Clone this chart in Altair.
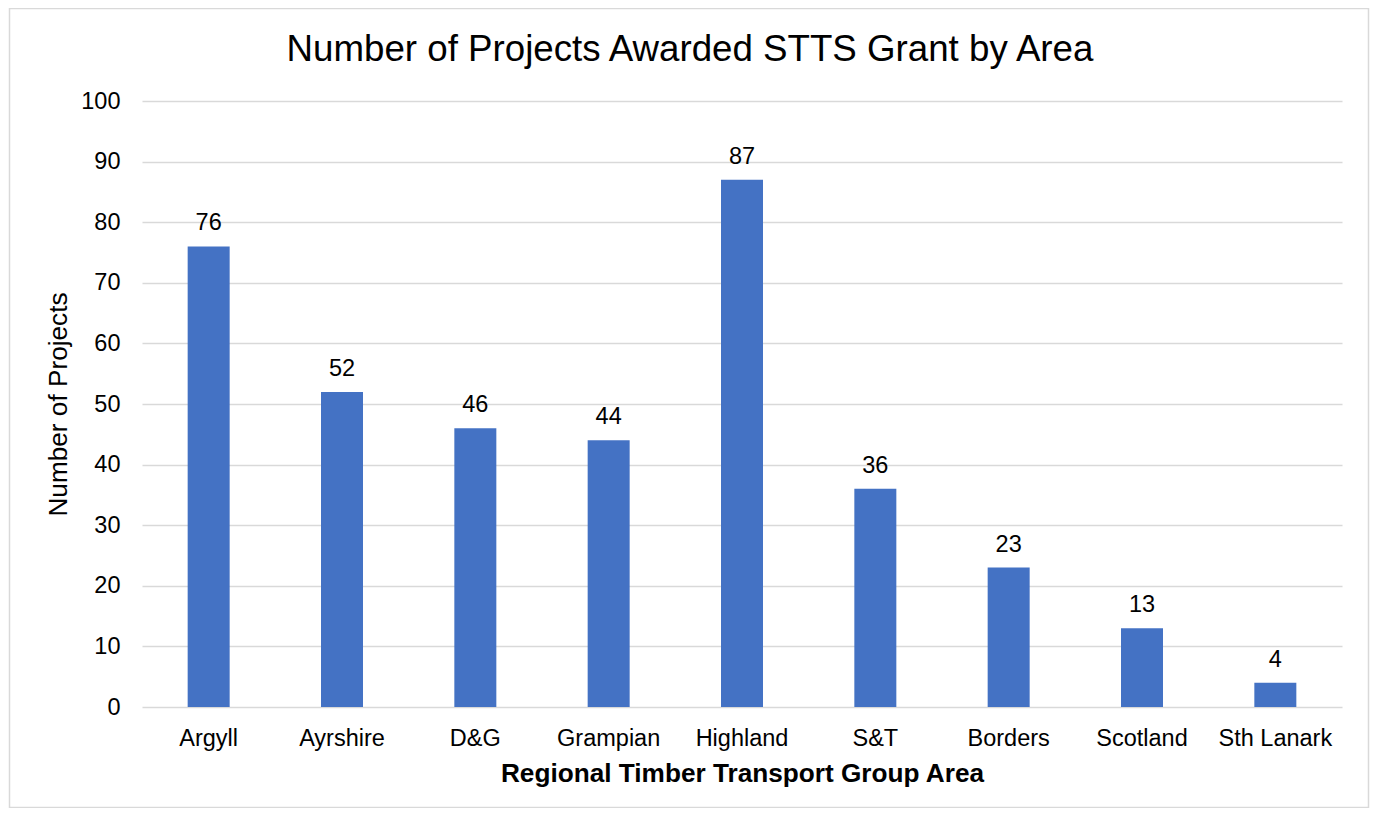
import altair as alt
import pandas as pd

areas = ["Argyll", "Ayrshire", "D&G", "Grampian", "Highland", "S&T", "Borders", "Scotland", "Sth Lanark"]
projects = [76, 52, 46, 44, 87, 36, 23, 13, 4]

df = pd.DataFrame({"area": areas, "projects": projects})

FONT = "Liberation Sans"

x = alt.X(
    "area:N",
    sort=areas,
    scale=alt.Scale(paddingInner=0.685, paddingOuter=0.3425),
    axis=alt.Axis(
        title="Regional Timber Transport Group Area",
        labelAngle=0,
        labelFontSize=23.5,
        labelColor="#000000",
        labelFont=FONT,
        labelBaseline="alphabetic",
        labelPadding=38,
        ticks=False,
        tickSize=0,
        domain=False,
        titleFont=FONT,
        titleFontSize=26.2,
        titleFontWeight="bold",
        titleColor="#000000",
        titleBaseline="alphabetic",
        titleY=74,
    ),
)
y = alt.Y(
    "projects:Q",
    scale=alt.Scale(domain=[0, 100]),
    axis=alt.Axis(
        title="Number of Projects",
        values=list(range(0, 101, 10)),
        labelFontSize=23.5,
        labelColor="#000000",
        labelFont=FONT,
        labelPadding=22,
        ticks=False,
        tickSize=0,
        domain=False,
        grid=True,
        gridColor="#d9d9d9",
        gridWidth=1.5,
        titleFont=FONT,
        titleFontSize=26.2,
        titleFontWeight="normal",
        titleColor="#000000",
        titleX=-84,
        titleY=303,
        titleAlign="center",
        titleBaseline="middle",
        titleAngle=270,
    ),
)

bars = alt.Chart(df).mark_bar(color="#4472C4").encode(x=x, y=y)

labels = alt.Chart(df).mark_text(
    baseline="alphabetic", dy=-16, fontSize=23.5, font=FONT, color="#000000"
).encode(x=alt.X("area:N", sort=areas), y="projects:Q", text="projects:Q")

border = alt.Chart(pd.DataFrame({"a": [0]})).mark_rect(
    fill=None, stroke="#d9d9d9", strokeWidth=1.5
).encode(
    x=alt.value(-132.5), x2=alt.value(1226.5), y=alt.value(-92.5), y2=alt.value(706.5)
)

chart = (
    alt.layer(bars, labels, border)
    .properties(
        width=1200,
        height=606,
        title=alt.TitleParams(
            "Number of Projects Awarded STTS Grant by Area",
            font=FONT,
            fontSize=36.7,
            fontWeight="normal",
            color="#000000",
            anchor="middle",
            frame="group",
            dx=-52,
            baseline="alphabetic",
            offset=-90,
        ),
        autosize=alt.AutoSizeParams(type="none"),
        padding={"left": 134, "top": 93, "right": 28, "bottom": 101},
        background="white",
    )
    .configure_view(stroke=None)
)

chart.save("out.html", embed_options={"renderer": "svg", "actions": False})
